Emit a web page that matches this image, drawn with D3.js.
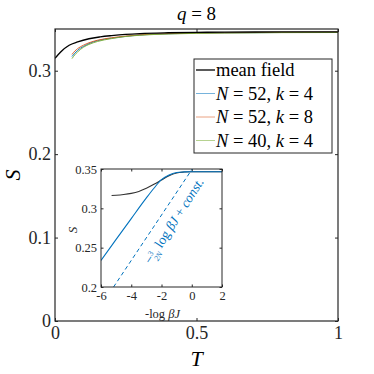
<!DOCTYPE html>
<html>
<head>
<meta charset="utf-8">
<script src="https://cdn.jsdelivr.net/npm/d3@7"></script>
<style>
  body { margin: 0; background: #fff; }
  .axis line { stroke: #262626; }
  .axis text { fill: #262626; }
</style>
</head>
<body>
<svg id="chart" width="374" height="374"></svg>
<script>
// main panel data (T, S)
const mfT = [0, 0.02, 0.05, 0.08, 0.12, 0.16, 0.2, 0.25, 0.3, 0.4, 0.5, 0.6, 0.8, 1.0];
const mfS = [0.3148, 0.3225, 0.3305, 0.3345, 0.3383, 0.3405, 0.342, 0.3435, 0.3445, 0.3455, 0.346, 0.3463, 0.3465, 0.3466];

const simT = [0.06, 0.07, 0.08, 0.1, 0.12, 0.15, 0.2, 0.25, 0.3, 0.4, 0.6, 0.8, 1.0];
const s52k4 = [0.317, 0.321, 0.3245, 0.329, 0.3325, 0.336, 0.339, 0.3412, 0.3428, 0.3443, 0.3454, 0.3458, 0.346];
const s52k8 = [0.3195, 0.3235, 0.3265, 0.3305, 0.3335, 0.3365, 0.3395, 0.3415, 0.343, 0.3445, 0.3455, 0.346, 0.3462];
const s40k4 = [0.3145, 0.319, 0.3225, 0.328, 0.3315, 0.335, 0.3385, 0.341, 0.3425, 0.344, 0.3452, 0.3456, 0.3458];

const xTicks = [0, 0.5, 1];
const yTicks = [0, 0.1, 0.2, 0.3];

// inset data (-log beta J, S)
const inMfX = [-5.3, -5, -4.5, -4, -3.5, -3, -2.5, -2, -1.5, -1, -0.5, 0, 1, 2];
const inMfS = [0.3163, 0.3166, 0.3175, 0.319, 0.3215, 0.3255, 0.3305, 0.336, 0.3415, 0.345, 0.3462, 0.3466, 0.3466, 0.3466];
const inBlueX = [-6, -5, -4, -3, -2.5, -2, -1.5, -1, -0.5, 0, 1, 2];
const inBlueS = [0.2338, 0.2605, 0.287, 0.3132, 0.3255, 0.3365, 0.3425, 0.3455, 0.3463, 0.3466, 0.3466, 0.3466];
const dashX = [-5.17, 0.03];
const dashS = [0.2, 0.35];
const inXTicks = [-6, -4, -2, 0, 2];
const inYTicks = [0.2, 0.25, 0.3, 0.35];

const series = [
  {name: "N52k4", T: simT, S: s52k4, color: "#0072BD", N: "52", k: "4"},
  {name: "N52k8", T: simT, S: s52k8, color: "#D95319", N: "52", k: "8"},
  {name: "N40k4", T: simT, S: s40k4, color: "#77AC30", N: "40", k: "4"}
];

const serif = "'Liberation Serif', 'Times New Roman', serif";

const svg = d3.select("#chart");
const margin = {top: 29, right: 36, bottom: 53, left: 55},
      width = 374 - margin.left - margin.right,
      height = 374 - margin.top - margin.bottom;

const x = d3.scaleLinear().domain([0, 1]).range([0, width]);
const y = d3.scaleLinear().domain([0, 0.35]).range([height, 0]);

const chart = svg.append("g")
  .attr("transform", "translate(" + margin.left + "," + margin.top + ")");

// axes, ticks pointing inward
chart.append("g").attr("class", "axis")
  .attr("transform", "translate(0," + height + ")")
  .call(d3.axisBottom(x).tickValues(xTicks).tickSizeInner(-3).tickSizeOuter(0).tickPadding(5)
    .tickFormat(d3.format("")))
  .call(g => g.selectAll("text").style("font-size", "18px"));
chart.append("g").attr("class", "axis")
  .call(d3.axisLeft(y).tickValues(yTicks).tickSizeInner(-3).tickSizeOuter(0).tickPadding(4)
    .tickFormat(d3.format("")))
  .call(g => g.selectAll("text").style("font-size", "18px"));
chart.append("g").attr("class", "axis")
  .call(d3.axisTop(x).tickValues(xTicks).tickSizeInner(-3).tickSizeOuter(0).tickFormat(""));
chart.append("g").attr("class", "axis")
  .attr("transform", "translate(" + width + ",0)")
  .call(d3.axisRight(y).tickValues(yTicks).tickSizeInner(-3).tickSizeOuter(0).tickFormat(""));
chart.selectAll(".axis path").remove();

const defs = svg.append("defs");
defs.append("clipPath").attr("id", "mainclip")
  .append("rect").attr("width", width).attr("height", height + 1).attr("y", -1);

const line = d3.line().x(d => x(d[0])).y(d => y(d[1])).curve(d3.curveMonotoneX);

const plot = chart.append("g").attr("clip-path", "url(#mainclip)");
series.forEach(s => {
  plot.append("path")
    .datum(s.T.map((t, i) => [t, s.S[i]]))
    .attr("d", line)
    .attr("fill", "none")
    .attr("stroke", s.color)
    .attr("stroke-width", 0.9);
});
plot.append("path")
  .datum(mfT.map((t, i) => [t, mfS[i]]))
  .attr("d", line)
  .attr("fill", "none")
  .attr("stroke", "#000")
  .attr("stroke-width", 1.4);

// frame
chart.append("rect")
  .attr("width", width).attr("height", height)
  .attr("fill", "none").attr("stroke", "#262626").attr("stroke-width", 1.2);

// title
const title = svg.append("text")
  .attr("x", margin.left + width / 2).attr("y", 20)
  .attr("text-anchor", "middle").style("font-size", "19px").attr("fill", "#000");
title.append("tspan").style("font-style", "italic").text("q");
title.append("tspan").text(" = 8");

// axis labels
svg.append("text")
  .attr("x", margin.left + width / 2).attr("y", 366)
  .attr("text-anchor", "middle").style("font-size", "22px").style("font-style", "italic")
  .text("T");
svg.append("text")
  .attr("transform", "translate(20," + (margin.top + height / 2) + ") rotate(-90)")
  .attr("text-anchor", "middle").style("font-size", "22px").style("font-style", "italic")
  .text("S");

// legend
const leg = svg.append("g").attr("transform", "translate(194,59)");
leg.append("rect").attr("width", 138).attr("height", 94)
  .attr("fill", "#fff").attr("stroke", "#262626").attr("stroke-width", 1);
const legItems = [{label: "mean field", color: "#000"}].concat(series);
legItems.forEach((s, i) => {
  const ly = 11 + i * 23.5;
  leg.append("line").attr("x1", 2).attr("x2", 21).attr("y1", ly).attr("y2", ly)
    .attr("stroke", s.color).attr("stroke-width", s.label ? 1.3 : 0.9)
    .attr("stroke-opacity", s.label ? 1 : 0.6);
  const t = leg.append("text").attr("x", 22).attr("y", ly + 6).style("font-size", "18.5px");
  if (s.label) {
    t.text(s.label);
  } else {
    t.append("tspan").style("font-style", "italic").text("N");
    t.append("tspan").text(" = " + s.N + ", ");
    t.append("tspan").style("font-style", "italic").text("k");
    t.append("tspan").text(" = " + s.k);
  }
});

// inset
const inset = {left: 101, top: 169, width: 121, height: 118};
const ix = d3.scaleLinear().domain([-6, 2]).range([0, inset.width]);
const iy = d3.scaleLinear().domain([0.2, 0.35]).range([inset.height, 0]);
const ig = svg.append("g").attr("transform", "translate(" + inset.left + "," + inset.top + ")");
ig.append("rect").attr("width", inset.width).attr("height", inset.height).attr("fill", "#fff");

ig.append("g").attr("class", "axis")
  .attr("transform", "translate(0," + inset.height + ")")
  .call(d3.axisBottom(ix).tickValues(inXTicks).tickSizeInner(-2.5).tickSizeOuter(0).tickPadding(4)
    .tickFormat(d => d < 0 ? "-" + (-d) : d))
  .call(g => g.selectAll("text").style("font-size", "12.5px"));
ig.append("g").attr("class", "axis")
  .call(d3.axisLeft(iy).tickValues(inYTicks).tickSizeInner(-2.5).tickSizeOuter(0).tickPadding(4)
    .tickFormat(d3.format("")))
  .call(g => g.selectAll("text").style("font-size", "12.5px"));
ig.append("g").attr("class", "axis")
  .call(d3.axisTop(ix).tickValues(inXTicks).tickSizeInner(-2.5).tickSizeOuter(0).tickFormat(""));
ig.append("g").attr("class", "axis")
  .attr("transform", "translate(" + inset.width + ",0)")
  .call(d3.axisRight(iy).tickValues(inYTicks).tickSizeInner(-2.5).tickSizeOuter(0).tickFormat(""));
ig.selectAll(".axis path").remove();

defs.append("clipPath").attr("id", "insetclip")
  .append("rect").attr("width", inset.width).attr("height", inset.height);
const iline = d3.line().x(d => ix(d[0])).y(d => iy(d[1])).curve(d3.curveMonotoneX);
const ip = ig.append("g").attr("clip-path", "url(#insetclip)");
ip.append("path").datum(dashX.map((v, i) => [v, dashS[i]])).attr("d", iline)
  .attr("fill", "none").attr("stroke", "#0072BD").attr("stroke-width", 1)
  .attr("stroke-dasharray", "4,3");
ip.append("path").datum(inMfX.map((v, i) => [v, inMfS[i]])).attr("d", iline)
  .attr("fill", "none").attr("stroke", "#333").attr("stroke-width", 1.1);
ip.append("path").datum(inBlueX.map((v, i) => [v, inBlueS[i]])).attr("d", iline)
  .attr("fill", "none").attr("stroke", "#0072BD").attr("stroke-width", 1.1);

ig.append("rect").attr("width", inset.width).attr("height", inset.height)
  .attr("fill", "none").attr("stroke", "#262626").attr("stroke-width", 1);

// annotation along the dashed line
const ann = ig.append("text")
  .attr("transform", "translate(50,96) rotate(-57.4)")
  .attr("fill", "#0072BD").style("font-size", "13.5px");
ann.append("tspan").text("\u2212");
ann.append("tspan").attr("dy", -4).style("font-size", "8px").text("3");
ann.append("tspan").attr("dx", -5).attr("dy", 8).style("font-size", "8px").style("font-style", "italic").text("2N");
ann.append("tspan").attr("dy", -4).text(" log ");
ann.append("tspan").style("font-style", "italic").text("\u03b2J");
ann.append("tspan").text(" + ");
ann.append("tspan").style("font-style", "italic").text("const.");

// inset labels
svg.append("text")
  .attr("x", inset.left + inset.width / 2 + 1).attr("y", 318)
  .attr("text-anchor", "middle").style("font-size", "12.5px").attr("fill", "#262626")
  .call(t => {
    t.append("tspan").text("-log ");
    t.append("tspan").style("font-style", "italic").text("\u03b2J");
  });
svg.append("text")
  .attr("transform", "translate(77,230) rotate(-90)")
  .attr("text-anchor", "middle").style("font-size", "13px").style("font-style", "italic")
  .attr("fill", "#262626").text("S");

// one serif face for every text
svg.selectAll("text").style("font-family", serif);
</script>
</body>
</html>
